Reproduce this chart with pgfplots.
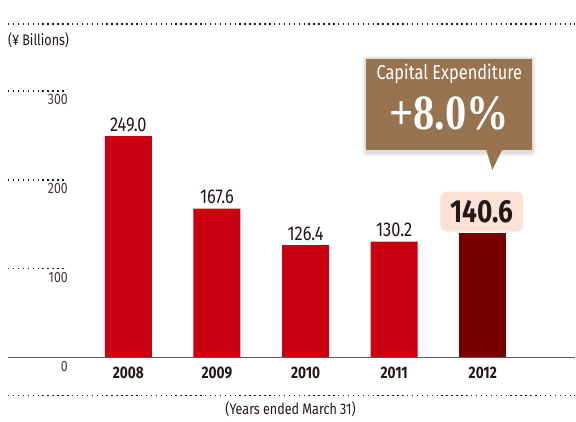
\documentclass[border=0pt]{standalone}
\usepackage{pgfplots}
\pgfplotsset{compat=1.18}
\usepackage{fontspec}
\setmainfont[FakeStretch=0.82]{Fira Sans}
\newfontfamily\bigserif[FakeStretch=0.86]{Liberation Serif}
\definecolor{barred}{HTML}{C8000F}
\definecolor{bardark}{HTML}{780000}
\definecolor{calloutbrown}{HTML}{977350}
\definecolor{pinkbg}{HTML}{FBE1D6}
\definecolor{txt}{HTML}{231815}
\tikzset{dots/.style={line width=1.3pt, dash pattern=on 1.1pt off 2.6pt, txt}}
\begin{document}
\begin{tikzpicture}
\begin{axis}[
    width=432pt, height=315pt, scale only axis,
    xmin=-1.448, xmax=5.042,
    ymin=-69.66, ymax=402.2,
    clip=false,
    axis line style={draw=none},
    tick style={draw=none},
    xtick={0,1,2,3,4},
    xticklabels={2008,2009,2010,2011,2012},
    xticklabel style={font=\bfseries\fontsize{12.5}{14}\selectfont, text=txt, yshift=43pt},
    ytick={0,100,200,300},
    yticklabel style={font=\fontsize{11.3}{13}\selectfont, text=txt!85, anchor=north east, xshift=54.5pt, yshift=1pt},
    /pgf/number format/assume math mode=true,
]
% dotted rules
\draw[dots] (axis cs:-1.358,375.3) -- (axis cs:5.042,375.3);
\draw[dots] (axis cs:-1.358,-42.7) -- (axis cs:5.042,-42.7);
\draw[dots] (axis cs:-1.358,100) -- (axis cs:-0.715,100);
\draw[dots] (axis cs:-1.358,200) -- (axis cs:-0.715,200);
\draw[dots] (axis cs:-1.358,300) -- (axis cs:-0.715,300);

\addplot[ybar, bar width=0.53, bar shift=0pt, fill=barred, draw=none,
    nodes near coords, point meta=explicit symbolic,
    nodes near coords style={font=\fontsize{15}{17}\selectfont, text=txt, anchor=south}]
  table[meta=lab] {
x y lab
0 249.0 249.0
1 167.6 167.6
2 126.4 126.4
3 130.2 130.2
};
\addplot[ybar, bar width=0.53, bar shift=0pt, fill=bardark, draw=none]
  table {
x y
4 140.6
};

% baseline
\draw[line width=1.1pt, black!65] (axis cs:-1.358,0) -- (axis cs:5.042,0);

% highlighted latest value
\fill[pinkbg, rounded corners=5pt] (axis cs:3.521,186.5) rectangle (axis cs:4.456,141.6);
\node[font=\bfseries\fontsize{24}{26}\selectfont, text=txt] at (axis cs:3.99,164) {140.6};

% callout with soft shadow
\fill[black, opacity=0.04, rounded corners=3pt] (axis cs:2.64,339) rectangle (axis cs:4.60,226);
\fill[black, opacity=0.05, rounded corners=2pt] (axis cs:2.655,338) rectangle (axis cs:4.585,228);
\fill[black, opacity=0.06, rounded corners=2pt] (axis cs:2.67,337) rectangle (axis cs:4.57,230);
\fill[calloutbrown] (axis cs:2.687,336) rectangle (axis cs:4.557,233.7);
\fill[calloutbrown] (axis cs:4.038,233.9) -- (axis cs:4.107,211.2) -- (axis cs:4.22,233.9) -- cycle;
\node[font=\fontsize{15}{17}\selectfont, text=white] at (axis cs:3.622,319.1) {Capital Expenditure};
\node[font=\bigserif\bfseries\fontsize{37}{39}\selectfont, text=white] at (axis cs:3.622,274.2) {+8.0\%};

% unit and period notes
\node[font=\fontsize{11.5}{13}\selectfont, text=txt, anchor=west, inner sep=0pt] at (axis cs:-1.358,357.3) {(¥ Billions)};
\node[font=\fontsize{11.5}{13}\selectfont, text=txt] at (axis cs:1.831,-58.4) {(Years ended March 31)};
\end{axis}
\end{tikzpicture}
\end{document}
